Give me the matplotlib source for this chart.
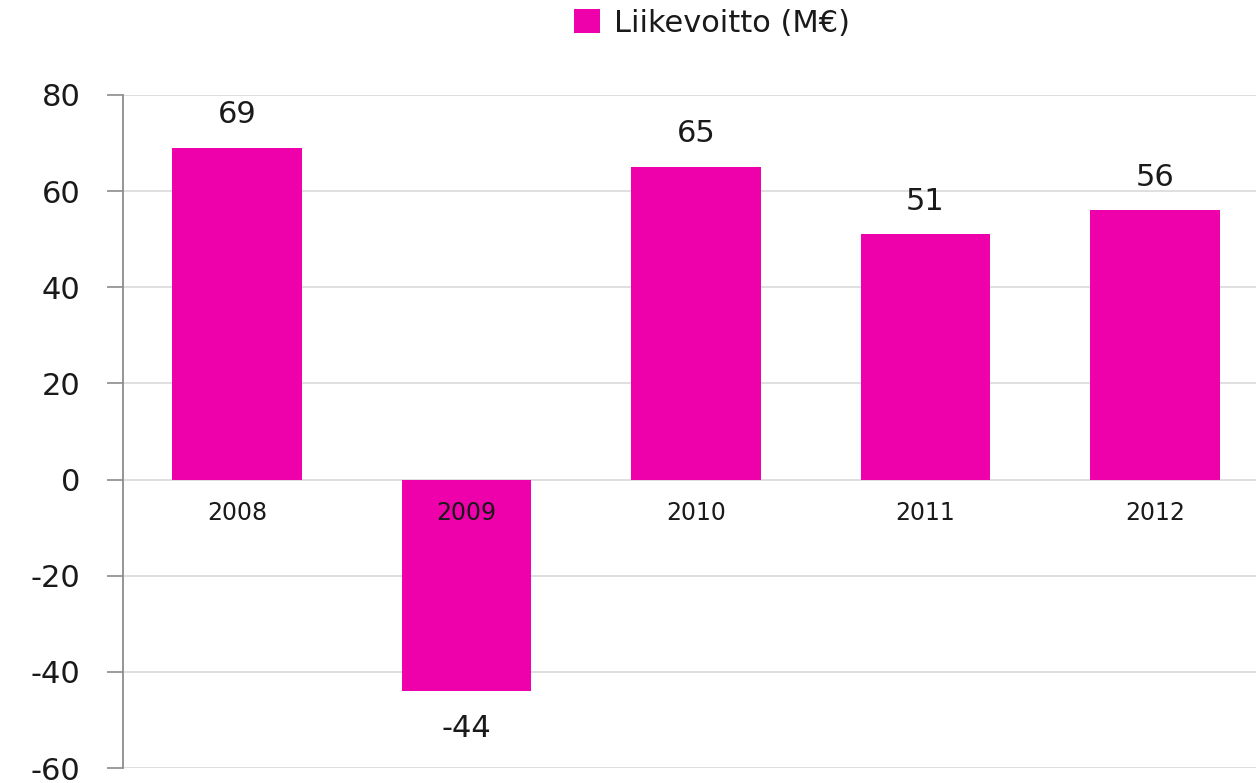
import matplotlib
matplotlib.use("Agg")
import matplotlib.pyplot as plt
from matplotlib.patches import Patch

years = ["2008", "2009", "2010", "2011", "2012"]
values = [69, -44, 65, 51, 56]
series_name = "Liikevoitto (M€)"
yticks = [-60, -40, -20, 0, 20, 40, 60, 80]

bar_color = "#EE00AA"
text_color = "#1a1a1a"

plt.rcParams["font.family"] = ["DejaVu Sans"]

fig = plt.figure(figsize=(12.56, 7.83), dpi=100)
ax = fig.add_axes([123/1256, 1-768/783, 1-123/1256, (768-95)/783])

x = list(range(len(years)))
ax.bar(x, values, width=0.566, color=bar_color, zorder=2)

ax.set_ylim(-60, 80)
ax.set_xlim(-0.497, 4.44)
ax.set_yticks(yticks)
ax.set_yticklabels([str(v) for v in yticks], fontsize=22, color=text_color)
ax.set_xticks([])
ax.grid(axis="y", color="#d9d9d9", linewidth=1.2, zorder=0)
ax.tick_params(axis="y", length=11.5, width=1.2, color="#8c8c8c", pad=19)
for s in ["top", "right", "bottom"]:
    ax.spines[s].set_visible(False)
ax.spines["left"].set_color("#8c8c8c")
ax.spines["left"].set_linewidth(1.3)

for i, (yr, v) in enumerate(zip(years, values)):
    ax.annotate(yr, (i, 0), xytext=(0, -24), textcoords="offset points",
                ha="center", va="center", fontsize=17, color=text_color, zorder=3)
    off = 24 if v >= 0 else -27
    ax.annotate(str(v), (i, v), xytext=(0, off), textcoords="offset points",
                ha="center", va="center", fontsize=22, color=text_color, zorder=3)

handle = Patch(facecolor=bar_color, edgecolor="none")
fig.legend([handle], [series_name], loc="center", bbox_to_anchor=(712/1256, 1-23/783),
           frameon=False, fontsize=22, handlelength=0.85, handleheight=0.85,
           handletextpad=0.45, labelcolor=text_color)

fig.savefig("out.png", dpi=100)
